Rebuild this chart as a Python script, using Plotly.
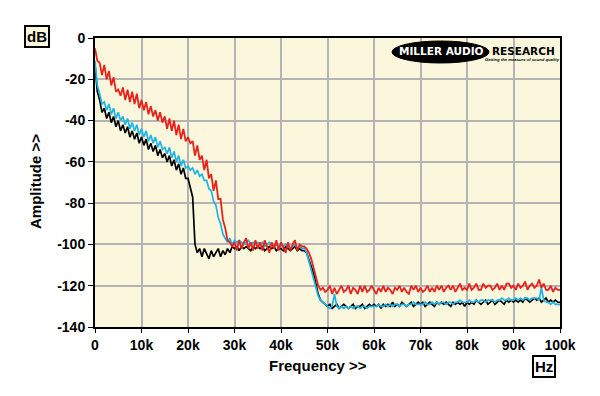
import plotly.graph_objects as go

# Frequency grid in kHz (0.5 kHz steps, 0..100 kHz)
freq_khz = [i * 0.5 for i in range(201)]

black_db = [
    -13, -26, -30, -36, -34, -39, -36, -41, -38, -43,
    -40, -45, -42, -46, -43, -48, -45, -49, -46, -51,
    -48, -52, -49, -54, -51, -55, -52, -57, -54, -58,
    -56, -60, -57, -62, -59, -64, -61, -66, -63, -68,
    -68, -73, -77, -100, -104, -102, -106, -102, -105, -107,
    -103, -106, -104, -102, -106, -103, -105, -102, -104, -101,
    -102, -101, -103, -101, -102, -101, -102, -103, -101, -102,
    -101, -102, -101, -103, -102, -101, -102, -101, -103, -102,
    -102, -103, -101, -102, -103, -102, -101, -103, -102, -103,
    -103, -104, -107, -110, -114, -119, -124, -127, -128, -129,
    -130, -129, -131, -130, -129, -131, -130, -129, -130, -131,
    -130, -129, -131, -130, -130, -129, -131, -130, -129, -130,
    -129, -130, -129, -131, -129, -130, -129, -130, -128, -130,
    -129, -130, -128, -129, -130, -129, -128, -130, -129, -128,
    -129, -128, -130, -129, -128, -129, -130, -128, -129, -128,
    -129, -128, -129, -130, -128, -129, -128, -129, -128, -130,
    -128, -129, -128, -129, -127, -128, -129, -128, -127, -129,
    -128, -127, -129, -128, -127, -128, -129, -127, -128, -127,
    -128, -127, -128, -127, -128, -126, -127, -128, -127, -126,
    -127, -126, -128, -127, -126, -128, -127, -128, -127, -128,
    -128,
]

blue_db = [
    -11, -23, -27, -32, -31, -35, -32, -37, -34, -39,
    -36, -40, -38, -42, -39, -44, -41, -45, -42, -47,
    -44, -48, -45, -50, -47, -51, -48, -53, -50, -54,
    -53, -56, -53, -58, -55, -60, -57, -62, -59, -63,
    -62, -64, -63, -66, -64, -67, -66, -69, -69, -73,
    -74, -79, -81, -87, -90, -95, -97, -99, -97, -100,
    -98, -99, -98, -99, -100, -99, -98, -100, -99, -100,
    -99, -100, -99, -101, -100, -99, -100, -101, -100, -101,
    -100, -101, -100, -101, -102, -101, -100, -102, -101, -102,
    -102, -104, -108, -113, -117, -121, -125, -127, -128, -129,
    -130, -131, -130, -124, -130, -131, -130, -131, -130, -131,
    -130, -131, -130, -130, -131, -130, -130, -131, -130, -130,
    -130, -130, -129, -130, -130, -129, -130, -129, -130, -129,
    -129, -130, -129, -129, -130, -129, -129, -128, -129, -129,
    -129, -129, -128, -129, -129, -128, -129, -128, -129, -128,
    -128, -129, -128, -128, -129, -128, -128, -127, -128, -128,
    -128, -127, -128, -128, -127, -128, -127, -127, -128, -127,
    -127, -127, -128, -127, -127, -126, -127, -127, -126, -127,
    -127, -126, -127, -126, -127, -126, -126, -127, -126, -126,
    -126, -127, -121, -127, -128, -128, -129, -128, -129, -129,
    -129,
]

red_db = [
    -5, -11, -12, -18, -13, -20, -16, -23, -19, -26,
    -25, -28, -24, -30, -25, -31, -26, -32, -27, -34,
    -30, -35, -31, -37, -33, -38, -35, -40, -36, -41,
    -38, -44, -39, -45, -40, -47, -42, -49, -44, -50,
    -48, -51, -50, -57, -52, -59, -57, -64, -59, -68,
    -66, -74, -69, -78, -78, -88, -92, -98, -99, -101,
    -99, -103, -98, -102, -99, -97, -102, -99, -103, -98,
    -102, -99, -103, -98, -101, -104, -99, -102, -98, -103,
    -99, -102, -104, -99, -103, -100, -98, -103, -100, -101,
    -101, -102, -104, -107, -111, -116, -120, -122, -121, -123,
    -122, -120, -124, -121, -124, -122, -120, -123, -122, -120,
    -124, -121, -122, -124, -120, -123, -120, -123, -122, -120,
    -122, -124, -121, -123, -120, -123, -121, -122, -124, -121,
    -122, -120, -123, -121, -123, -124, -120, -122, -120, -123,
    -121, -123, -122, -120, -123, -121, -123, -120, -122, -120,
    -123, -121, -120, -122, -120, -123, -121, -119, -122, -121,
    -122, -119, -122, -121, -119, -122, -122, -119, -121, -120,
    -120, -122, -121, -119, -122, -120, -122, -119, -119, -121,
    -120, -122, -119, -121, -120, -118, -122, -120, -119, -121,
    -120, -117, -121, -119, -122, -122, -120, -123, -121, -122,
    -122,
]

x_tick_vals = [0, 10, 20, 30, 40, 50, 60, 70, 80, 90, 100]
x_tick_text = ["0", "10k", "20k", "30k", "40k", "50k", "60k", "70k", "80k", "90k", "100k"]
y_tick_vals = [0, -20, -40, -60, -80, -100, -120, -140]
y_tick_text = ["0", "-20", "-40", "-60", "-80", "-100", "-120", "-140"]

fig = go.Figure()
for vals, col, w in [(black_db, "#000000", 1.7), (blue_db, "#1fb4e6", 1.7), (red_db, "#e8231b", 1.8)]:
    fig.add_trace(go.Scatter(x=freq_khz, y=vals, mode="lines",
                             line=dict(color=col, width=w), showlegend=False,
                             hoverinfo="skip"))

# page body has an 8px margin: figure coordinates = page coordinates - 8
OFF = 8
L, R, T, B = 95 - OFF, 560 - OFF, 38 - OFF, 327 - OFF
W, H = 600 - OFF, 396 - OFF

def px(xp):
    return (xp - OFF - L) / (R - L)

def py(yp):
    return (B - (yp - OFF)) / (B - T)

tickfont = dict(family="Arial", size=14, color="black", weight="bold")

fig.update_layout(
    width=W, height=H,
    margin=dict(l=L, r=W - R, t=T, b=H - B),
    paper_bgcolor="white",
    plot_bgcolor="#faf7dc",
    xaxis=dict(range=[0, 100], tickvals=x_tick_vals, ticktext=x_tick_text,
               showgrid=True, gridcolor="#b4b4b4", gridwidth=1.5,
               showline=True, linecolor="black", linewidth=2, mirror=True,
               ticks="outside", ticklen=4, tickcolor="black", tickwidth=1,
               tickfont=tickfont, zeroline=False),
    yaxis=dict(range=[-140, 0], tickvals=y_tick_vals, ticktext=y_tick_text,
               showgrid=True, gridcolor="#b4b4b4", gridwidth=1.5,
               showline=True, linecolor="black", linewidth=2, mirror=True,
               ticks="outside", ticklen=5, tickcolor="black", tickwidth=1,
               tickfont=tickfont, zeroline=False),
)

def ann(x, y, text, font, **kw):
    fig.add_annotation(xref="paper", yref="paper", x=px(x), y=py(y), text=text,
                       showarrow=False, xanchor="center", yanchor="middle",
                       font=font, **kw)

ann_font = dict(family="Arial", size=15, color="black", weight="bold")
ann(318, 365, "Frequency >>", ann_font)
ann(35, 182, "Amplitude >>", ann_font, textangle=-90)
ann(37, 37, "dB", ann_font, bgcolor="#faf7dc", bordercolor="black", borderwidth=2, borderpad=1)
ann(544, 367, "Hz", ann_font, bgcolor="white", bordercolor="black", borderwidth=2, borderpad=1)

# Logo
fig.add_shape(type="circle", xref="paper", yref="paper",
              x0=px(392), x1=px(489), y0=py(63), y1=py(41),
              fillcolor="black", line=dict(color="black", width=1))
ann(441, 51, "MILLER AUDIO", dict(family="DejaVu Sans", size=10.5, color="white", weight="bold"))
ann(523, 51, "RESEARCH", dict(family="DejaVu Sans", size=10.5, color="black", weight="bold"))
ann(522, 59, "<i>Getting the measure of sound quality</i>",
    dict(family="Arial", size=4.2, color="black", weight="bold"))

fig.write_html("out.html")
